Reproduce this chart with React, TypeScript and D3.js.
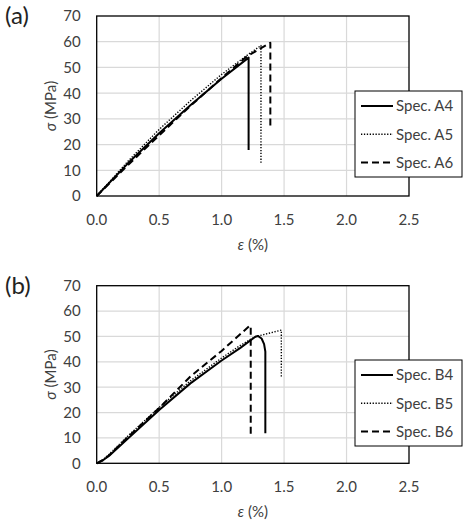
import React, { useRef, useEffect } from "react";
import * as d3 from "d3";

// strain (%) / stress (MPa) readings for each specimen
const strainA4 = [0, 0.25, 0.5, 0.75, 1.0, 1.216, 1.216];
const stressA4 = [0, 12.7, 24.4, 35.3, 45.6, 53.8, 17.9];
const strainA5 = [0, 0.25, 0.5, 0.75, 1.0, 1.2, 1.315, 1.315];
const stressA5 = [0, 13.5, 25.9, 37.0, 47.3, 54.6, 58.5, 12.7];
const strainA6 = [0, 0.25, 0.5, 0.75, 1.0, 1.2, 1.39, 1.39];
const stressA6 = [0, 12, 23.6, 35.0, 45.9, 54.2, 59.6, 26.3];

const strainB4 = [0, 0.05, 0.1, 0.25, 0.5, 0.75, 1.0, 1.15, 1.27, 1.29, 1.32, 1.34, 1.35, 1.35];
const stressB4 = [0, 1.2, 3, 9.8, 21, 31.5, 40.5, 45.5, 49.9, 50.2, 49.2, 47, 44, 11.8];
const strainB5 = [0, 0.05, 0.1, 0.25, 0.5, 0.75, 1.0, 1.15, 1.27, 1.478, 1.478];
const stressB5 = [0, 1.4, 3.6, 10.8, 22, 32.5, 41.5, 46.5, 49.9, 52.5, 34.1];
const strainB6 = [0, 0.05, 0.1, 0.25, 0.5, 0.75, 1.0, 1.224, 1.233, 1.233];
const stressB6 = [0, 1.3, 3.2, 10.3, 21.8, 34.2, 44.3, 54.2, 54.2, 10.3];

const seriesA = ["Spec. A4", "Spec. A5", "Spec. A6"];
const seriesB = ["Spec. B4", "Spec. B5", "Spec. B6"];

const xTicks = [0, 0.5, 1.0, 1.5, 2.0, 2.5];
const yTicks = [0, 10, 20, 30, 40, 50, 60, 70];

const lineStyles = [
    { width: 2, dash: null },
    { width: 1.4, dash: "1.3,1.6" },
    { width: 2, dash: "7,4" },
];

const FONT = "Lato, 'Open Sans', sans-serif";
const TEXT = "#404040";

const zip = (xs: number[], ys: number[]) => xs.map((x, i) => [x, ys[i]] as [number, number]);

const drawPanel = (svg, opts) => {
    const { top, bottom, left, right, letter, names, curves, legendTop } = opts;
    const x = d3.scaleLinear().domain([0, 2.5]).range([left, right]);
    const y = d3.scaleLinear().domain([0, 70]).range([bottom, top]);
    const g = svg.append("g");

    // grid
    g.append("g").selectAll("line").data(xTicks.slice(1, -1)).join("line")
        .attr("x1", d => x(d)).attr("x2", d => x(d))
        .attr("y1", top).attr("y2", bottom)
        .attr("stroke", "#d9d9d9").attr("stroke-width", 1.2);
    g.append("g").selectAll("line").data(yTicks.slice(1, -1)).join("line")
        .attr("x1", left).attr("x2", right)
        .attr("y1", d => y(d)).attr("y2", d => y(d))
        .attr("stroke", "#d9d9d9").attr("stroke-width", 1.2);

    // tick labels
    g.append("g").selectAll("text").data(xTicks).join("text")
        .attr("x", d => x(d)).attr("y", bottom + 29)
        .attr("text-anchor", "middle")
        .attr("font-family", FONT).attr("font-size", 15).attr("fill", TEXT)
        .text(d => d3.format(".1f")(d));
    g.append("g").selectAll("text").data(yTicks).join("text")
        .attr("x", left - 16).attr("y", d => y(d)).attr("dy", "0.36em")
        .attr("text-anchor", "end")
        .attr("font-family", FONT).attr("font-size", 15).attr("fill", TEXT)
        .text(d => d);

    // axis titles
    const xt = g.append("text")
        .attr("x", (left + right) / 2).attr("y", bottom + 54)
        .attr("text-anchor", "middle")
        .attr("font-family", FONT).attr("font-size", 15).attr("fill", TEXT);
    xt.append("tspan").attr("font-style", "italic").text("ε");
    xt.append("tspan").text(" (%)");
    const yt = g.append("text")
        .attr("transform", `translate(56,${(top + bottom) / 2}) rotate(-90)`)
        .attr("text-anchor", "middle")
        .attr("font-family", FONT).attr("font-size", 15).attr("fill", TEXT);
    yt.append("tspan").attr("font-style", "italic").text("σ");
    yt.append("tspan").text(" (MPa)");

    g.append("text")
        .attr("x", 5).attr("y", top + 8)
        .attr("font-family", FONT).attr("font-size", 24).attr("fill", "#222")
        .text(letter);

    // curves
    const line = d3.line().x(d => x(d[0])).y(d => y(d[1]));
    g.append("g").selectAll("path").data(curves).join("path")
        .attr("d", d => line(d))
        .attr("fill", "none").attr("stroke", "#000")
        .attr("stroke-linejoin", "round")
        .attr("stroke-width", (d, i) => lineStyles[i].width)
        .attr("stroke-dasharray", (d, i) => lineStyles[i].dash);

    // plot frame
    g.append("rect")
        .attr("x", left).attr("y", top)
        .attr("width", right - left).attr("height", bottom - top)
        .attr("fill", "none").attr("stroke", "#000").attr("stroke-width", 1.3);

    // legend
    const lg = g.append("g").attr("transform", `translate(355,${legendTop})`);
    lg.append("rect").attr("width", 107).attr("height", 86)
        .attr("fill", "#fff").attr("stroke", "#000").attr("stroke-width", 1);
    const rows = lg.selectAll("g.row").data(names).join("g")
        .attr("class", "row")
        .attr("transform", (d, i) => `translate(0,${15 + i * 28.3})`);
    rows.append("line")
        .attr("x1", 6).attr("x2", 38)
        .attr("stroke", "#000")
        .attr("stroke-width", (d, i) => lineStyles[i].width)
        .attr("stroke-dasharray", (d, i) => lineStyles[i].dash);
    rows.append("text")
        .attr("x", 41).attr("dy", "0.36em")
        .attr("font-family", FONT).attr("font-size", 15).attr("fill", TEXT)
        .text(d => d);
};

const App = () => {
    const chart = useRef(null);

    useEffect(() => {
        const svg = d3.select(chart.current);
        svg.selectAll("*").remove();

        drawPanel(svg, {
            top: 16, bottom: 196, left: 96.7, right: 409,
            letter: "(a)", names: seriesA, legendTop: 91,
            curves: [zip(strainA4, stressA4), zip(strainA5, stressA5), zip(strainA6, stressA6)],
        });
        drawPanel(svg, {
            top: 285.7, bottom: 463.3, left: 96.7, right: 409,
            letter: "(b)", names: seriesB, legendTop: 360,
            curves: [zip(strainB4, stressB4), zip(strainB5, stressB5), zip(strainB6, stressB6)],
        });
    });

    return (
        <svg ref={chart} width={470} height={520}
            style={{ position: "absolute", left: 0, top: 0, background: "#fff" }} />
    );
};

export default App;
